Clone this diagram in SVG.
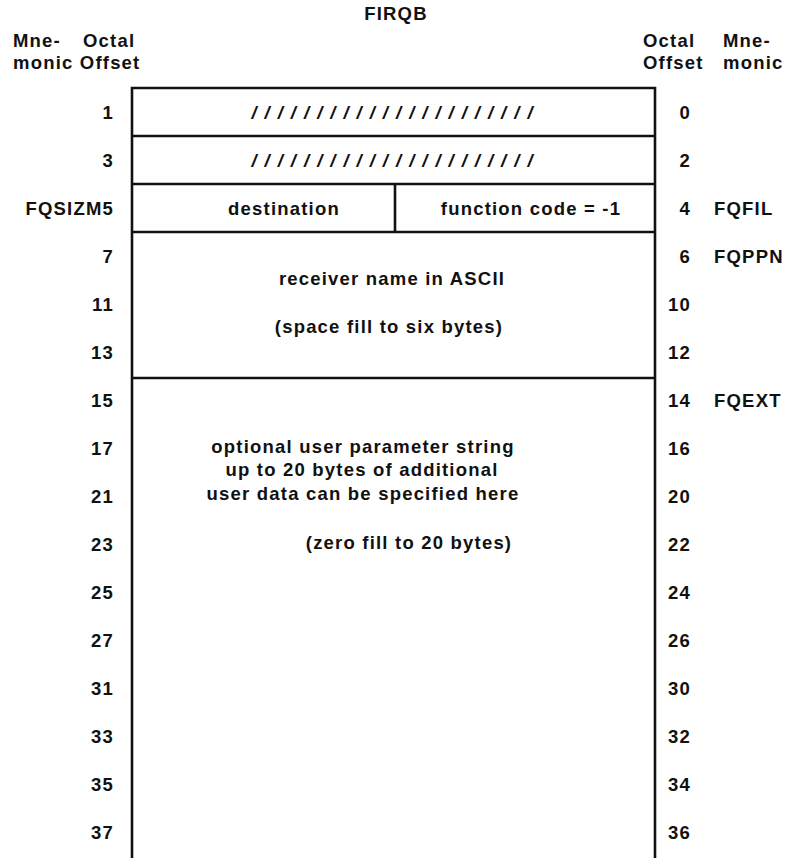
<svg xmlns="http://www.w3.org/2000/svg" width="804" height="858" viewBox="0 0 804 858">
<style>
text{font-family:"Liberation Sans",Arial,Helvetica,sans-serif;font-weight:bold;font-size:18.5px;fill:#111;letter-spacing:1.2px}
.r{text-anchor:end}
.m{text-anchor:middle}
.ln{stroke:#111;stroke-width:2.6;fill:none}
.sl{font-weight:bold;font-style:italic;letter-spacing:8px}
</style>
<rect width="804" height="858" fill="#fff"/>
<g id="header">
<text class="m" x="396" y="20">FIRQB</text>
<text x="13" y="47">Mne-</text>
<text x="83" y="47">Octal</text>
<text x="13" y="69">monic Offset</text>
<text x="643" y="47">Octal</text>
<text x="723" y="47">Mne-</text>
<text x="643" y="69">Offset</text>
<text x="723" y="69">monic</text>
</g>
<g id="connectors">
<path class="ln" d="M132,858 V88 H655 V858"/>
<path class="ln" d="M132,136 H655 M132,184 H655 M132,232 H655 M132,378 H655 M395,184 V232"/>
</g>
<g id="row-0">
<text class="m sl" x="396" y="119">//////////////////////</text>
</g>
<g id="row-2">
<text class="m sl" x="396" y="167">//////////////////////</text>
</g>
<g id="row-4-dest">
<text class="m" x="284" y="215">destination</text>
</g>
<g id="row-4-func">
<text class="m" x="531" y="215">function code = -1</text>
</g>
<g id="receiver">
<text class="m" x="392" y="285">receiver name in ASCII</text>
<text class="m" x="389" y="333">(space fill to six bytes)</text>
</g>
<g id="user-param">
<text class="m" x="363" y="453">optional user parameter string</text>
<text class="m" x="362" y="476">up to 20 bytes of additional</text>
<text class="m" x="363" y="500">user data can be specified here</text>
<text class="m" x="409" y="549">(zero fill to 20 bytes)</text>
</g>
<g id="left-offsets">
<text class="r" x="114" y="119">1</text>
<text class="r" x="114" y="167">3</text>
<text class="r" x="114" y="215">FQSIZM5</text>
<text class="r" x="114" y="263">7</text>
<text class="r" x="114" y="311">11</text>
<text class="r" x="114" y="359">13</text>
<text class="r" x="114" y="407">15</text>
<text class="r" x="114" y="455">17</text>
<text class="r" x="114" y="503">21</text>
<text class="r" x="114" y="551">23</text>
<text class="r" x="114" y="599">25</text>
<text class="r" x="114" y="647">27</text>
<text class="r" x="114" y="695">31</text>
<text class="r" x="114" y="743">33</text>
<text class="r" x="114" y="791">35</text>
<text class="r" x="114" y="839">37</text>
</g>
<g id="right-offsets">
<text class="r" x="691" y="119">0</text>
<text class="r" x="691" y="167">2</text>
<text class="r" x="691" y="215">4</text>
<text class="r" x="691" y="263">6</text>
<text class="r" x="691" y="311">10</text>
<text class="r" x="691" y="359">12</text>
<text class="r" x="691" y="407">14</text>
<text class="r" x="691" y="455">16</text>
<text class="r" x="691" y="503">20</text>
<text class="r" x="691" y="551">22</text>
<text class="r" x="691" y="599">24</text>
<text class="r" x="691" y="647">26</text>
<text class="r" x="691" y="695">30</text>
<text class="r" x="691" y="743">32</text>
<text class="r" x="691" y="791">34</text>
<text class="r" x="691" y="839">36</text>
</g>
<g id="right-mnemonics">
<text x="714" y="215">FQFIL</text>
<text x="714" y="263">FQPPN</text>
<text x="714" y="407">FQEXT</text>
</g>
</svg>
